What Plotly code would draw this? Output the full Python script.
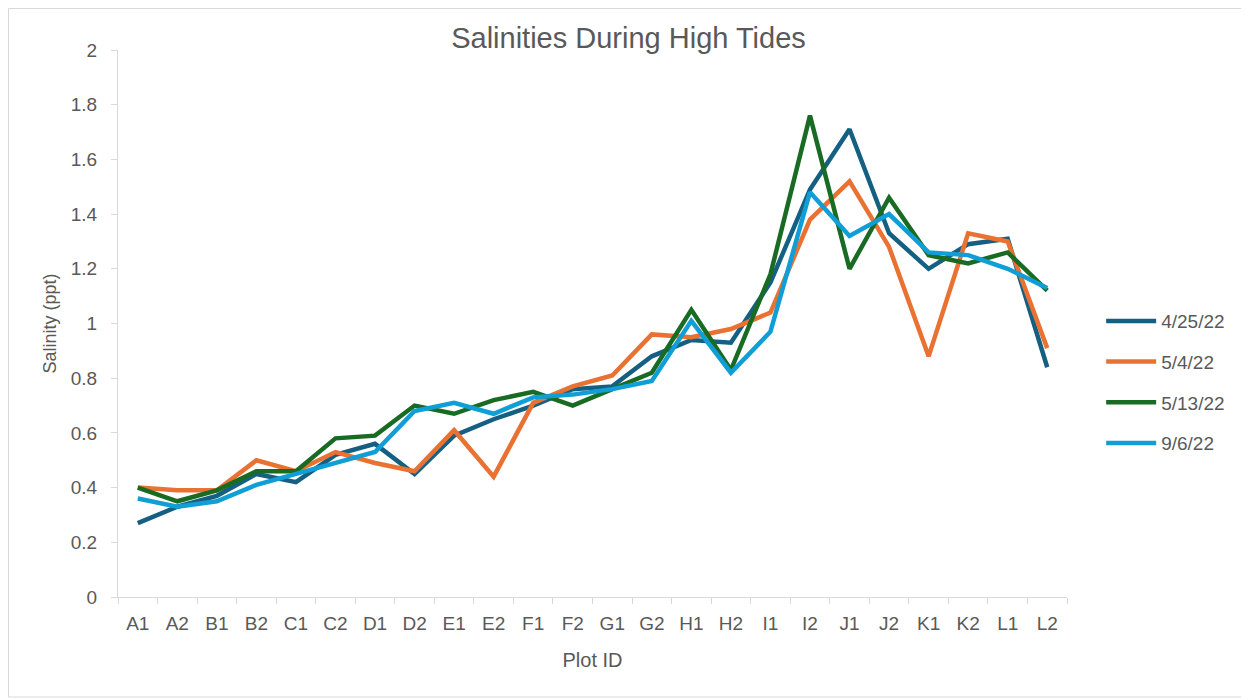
import plotly.graph_objects as go

plots = ["A1","A2","B1","B2","C1","C2","D1","D2","E1","E2","F1","F2",
         "G1","G2","H1","H2","I1","I2","J1","J2","K1","K2","L1","L2"]

s_0425 = [0.27,0.33,0.37,0.45,0.42,0.52,0.56,0.45,0.59,0.65,0.70,0.76,
          0.77,0.88,0.94,0.93,1.15,1.49,1.71,1.33,1.20,1.29,1.31,0.84]
s_0504 = [0.40,0.39,0.39,0.50,0.46,0.53,0.49,0.46,0.61,0.44,0.71,0.77,
          0.81,0.96,0.95,0.98,1.04,1.38,1.52,1.28,0.88,1.33,1.30,0.91]
s_0513 = [0.40,0.35,0.39,0.46,0.46,0.58,0.59,0.70,0.67,0.72,0.75,0.70,
          0.76,0.82,1.05,0.83,1.18,1.76,1.20,1.46,1.25,1.22,1.26,1.12]
s_0906 = [0.36,0.33,0.35,0.41,0.45,0.49,0.53,0.68,0.71,0.67,0.73,0.74,
          0.76,0.79,1.01,0.82,0.97,1.48,1.32,1.40,1.26,1.25,1.20,1.13]

series_names = ["4/25/22", "5/4/22", "5/13/22", "9/6/22"]
series_vals = [s_0425, s_0504, s_0513, s_0906]
colors = ["#156082", "#E97132", "#196B24", "#0F9ED5"]

y_ticks = [0, 0.2, 0.4, 0.6, 0.8, 1, 1.2, 1.4, 1.6, 1.8, 2]
y_labels = ["0", "0.2", "0.4", "0.6", "0.8", "1", "1.2", "1.4", "1.6", "1.8", "2"]

# page body has an 8px margin, so the figure is sized/placed to compensate
W, H = 1241, 692
ML, MR, MT, MB = 110, 182, 42, 103
FONT = "Liberation Sans, Arial, sans-serif"
TXT = "#595959"

fig = go.Figure()
for i, (name, vals, c) in enumerate(zip(series_names, series_vals, colors)):
    fig.add_trace(go.Scatter(
        x=plots, y=vals, mode="lines", name=name,
        line=dict(color=c, width=4.5), legendgroup=f"g{i}",
    ))

pw = W - ML - MR
ph = H - MT - MB
fig.add_shape(type="rect", xref="paper", yref="paper",
              x0=(0.5 - ML) / pw, x1=(1238 - ML) / pw,
              y0=(H - MB - 689) / ph, y1=(H - MB - 0.5) / ph,
              line=dict(color="#d9d9d9", width=1), layer="below")

fig.update_layout(
    width=W, height=H,
    margin=dict(l=ML, r=MR, t=MT, b=MB),
    paper_bgcolor="white", plot_bgcolor="white",
    font=dict(family=FONT, color=TXT, size=19),
    title=dict(text="Salinities During High Tides", x=0.5, xanchor="center",
               xref="container", y=1 - 30 / H, yanchor="middle",
               font=dict(size=29, color=TXT, family=FONT)),
    xaxis=dict(
        title=dict(text="Plot ID", font=dict(size=20, color=TXT), standoff=20),
        type="category", tickson="boundaries", ticks="outside", ticklen=6,
        tickcolor="#d9d9d9", showline=True, linecolor="#d9d9d9", linewidth=1,
        showgrid=False, tickfont=dict(size=19, color=TXT), ticklabelstandoff=9,
        range=[-0.5, len(plots) - 0.5],
    ),
    yaxis=dict(
        title=dict(text="Salinity (ppt)", font=dict(size=18, color=TXT), standoff=9),
        range=[0, 2], tickvals=y_ticks, ticktext=y_labels,
        ticks="outside", ticklen=6, tickcolor="#d9d9d9",
        showline=True, linecolor="#d9d9d9", linewidth=1,
        showgrid=False, zeroline=False, tickfont=dict(size=19, color=TXT),
        ticklabelstandoff=10,
    ),
    legend=dict(
        x=1.036, xanchor="left", y=0.393, yanchor="middle",
        font=dict(size=19, color=TXT), tracegroupgap=13,
        itemwidth=50, bgcolor="rgba(0,0,0,0)",
    ),
    showlegend=True,
)

fig.write_html("out.html")
